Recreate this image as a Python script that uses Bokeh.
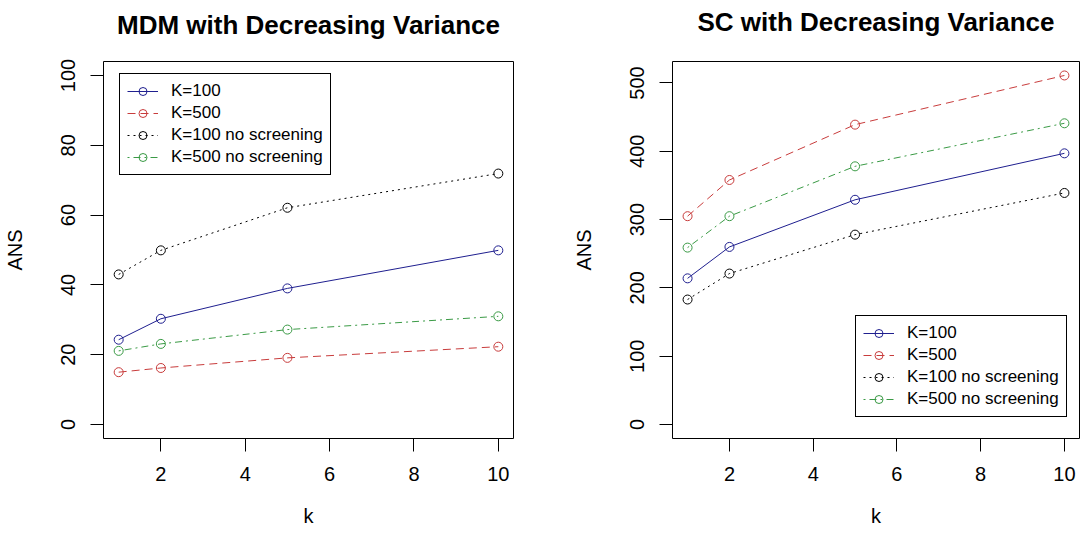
from bokeh.plotting import figure
from bokeh.layouts import row
from bokeh.models import Range1d, FixedTicker, Legend, LegendItem, LinearAxis
from bokeh.embed import file_html
from bokeh.resources import INLINE

# ---------------- data ----------------
k_values = [1, 2, 5, 10]
series_labels = ["K=100", "K=500", "K=100 no screening", "K=500 no screening"]

mdm_k100 = [24.3, 30.3, 39.0, 49.9]
mdm_k500 = [15.0, 16.2, 19.1, 22.3]
mdm_k100_ns = [43.0, 49.9, 62.1, 71.9]
mdm_k500_ns = [21.1, 23.1, 27.2, 31.0]

sc_k100 = [214, 260, 329, 397]
sc_k500 = [305, 358, 439, 511]
sc_k100_ns = [183, 221, 278, 339]
sc_k500_ns = [259, 305, 378, 441]

x_ticks = [2, 4, 6, 8, 10]
mdm_y_ticks = [0, 20, 40, 60, 80, 100]
sc_y_ticks = [0, 100, 200, 300, 400, 500]

# ---------------- styles ----------------
COLORS = ["#1f1f8f", "#c83c3c", "#000000", "#3a9a45"]
DASHES = ["solid", "8 5", "2 4", "2 4 7 4"]
FONT = "Liberation Sans"


def make_fig(title, series, y_lo, y_hi, y_ticks, b_left, b_right, b_top, b_bottom,
             fw, fh, legend_loc, title_gap):
    p = figure(frame_width=fw, frame_height=fh,
               min_border_left=b_left, min_border_right=b_right,
               min_border_top=b_top, min_border_bottom=b_bottom,
               x_range=Range1d(0.64, 10.36), y_range=Range1d(y_lo, y_hi),
               output_backend="svg", toolbar_location=None,
               background_fill_color="white", border_fill_color="white")

    xax = p.below[0]
    yax = p.left[0]

    p.outline_line_color = "black"
    p.outline_line_width = 1
    p.outline_line_alpha = 1
    p.xgrid.visible = False
    p.ygrid.visible = False

    for ax in (xax, yax):
        ax.axis_line_color = None
        ax.major_tick_line_color = "black"
        ax.major_tick_out = 13
        ax.major_tick_in = 0
        ax.minor_tick_line_color = None
        ax.major_label_text_font = FONT
        ax.major_label_text_font_size = "20px"
        ax.major_label_text_color = "black"
        ax.axis_label_text_font = FONT
        ax.axis_label_text_font_size = "20px"
        ax.axis_label_text_font_style = "normal"
        ax.axis_label_text_color = "black"

    xax.ticker = FixedTicker(ticks=x_ticks)
    yax.ticker = FixedTicker(ticks=y_ticks)
    xax.axis_label = "k"
    yax.axis_label = "ANS"
    yax.major_label_orientation = "vertical"
    xax.major_label_standoff = 15
    yax.major_label_standoff = 15
    xax.axis_label_standoff = 21
    yax.axis_label_standoff = 33

    # main title: label of a bare axis above the frame
    tax = LinearAxis(axis_label=title, ticker=FixedTicker(ticks=[]),
                     axis_line_color=None, major_tick_line_color=None,
                     minor_tick_line_color=None, major_tick_out=0, major_tick_in=0,
                     minor_tick_out=0, minor_tick_in=0, major_label_standoff=0,
                     major_label_text_font_size="0px",
                     axis_label_standoff=title_gap, axis_label_text_font=FONT,
                     axis_label_text_font_size="26px",
                     axis_label_text_font_style="bold",
                     axis_label_text_color="black")
    p.add_layout(tax, "above")

    items = []
    for lab, ys, c, d in zip(series_labels, series, COLORS, DASHES):
        p.line(k_values, ys, line_color=c, line_width=1, line_dash=d)
        p.scatter(k_values, ys, marker="circle", size=9, fill_color=None,
                  line_color=c, line_width=1)
        # legend-only renderers (smaller point, as in the reference key)
        lg_ln = p.line(k_values, ys, line_color=c, line_width=1, line_dash=d,
                       visible=False)
        lg_sc = p.scatter(k_values, ys, marker="circle", size=6, fill_color=None,
                          line_color=c, line_width=1, visible=False)
        items.append(LegendItem(label=lab, renderers=[lg_ln, lg_sc]))

    leg = Legend(items=items, location=legend_loc)
    leg.label_text_font = FONT
    leg.label_text_font_size = "17px"
    leg.label_text_color = "black"
    leg.glyph_width = 31
    leg.glyph_height = 20
    leg.label_height = 20
    leg.label_standoff = 13
    leg.spacing = 2
    leg.padding = 7
    leg.margin = 0
    leg.border_line_color = "black"
    leg.border_line_width = 1
    leg.border_line_alpha = 1
    leg.background_fill_color = "white"
    leg.background_fill_alpha = 1
    p.add_layout(leg, "center")
    return p


p1 = make_fig("MDM with Decreasing Variance",
              [mdm_k100, mdm_k500, mdm_k100_ns, mdm_k500_ns],
              -4, 104, mdm_y_ticks, 103, 27, 58, 101, 410, 377, (16, 263), 22)
p2 = make_fig("SC with Decreasing Variance",
              [sc_k100, sc_k500, sc_k100_ns, sc_k500_ns],
              -20.44, 531.44, sc_y_ticks, 132, 1, 61, 98, 407, 377, (183, 21), 25)

layout = row(p1, p2)
open("out.html", "w").write(file_html(layout, INLINE))
